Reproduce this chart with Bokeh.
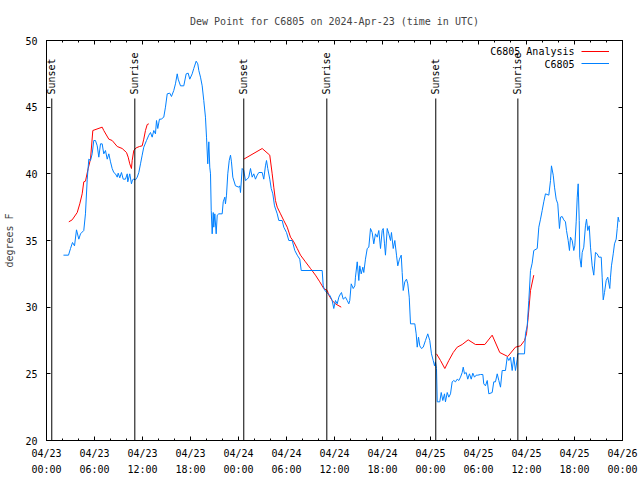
import numpy as np
from bokeh.plotting import figure
from bokeh.models import (LinearAxis, FixedTicker, Legend, LegendItem, Label, Range1d)
from bokeh.core.properties import value
from bokeh.embed import file_html
from bokeh.resources import INLINE

FONT = "DejaVu Sans Mono"

title_text = "Dew Point for C6805 on 2024-Apr-23 (time in UTC)"
y_label = "degrees F"
series_names = ["C6805 Analysis", "C6805"]

# x values: hours since 2024-04-23 00:00 UTC
tick_hours = [0, 6, 12, 18, 24, 30, 36, 42, 48, 54, 60, 66, 72]
tick_labels = ["04/23\n00:00", "04/23\n06:00", "04/23\n12:00", "04/23\n18:00",
               "04/24\n00:00", "04/24\n06:00", "04/24\n12:00", "04/24\n18:00",
               "04/25\n00:00", "04/25\n06:00", "04/25\n12:00", "04/25\n18:00",
               "04/26\n00:00"]
minor_tick_hours = list(range(0, 73, 2))
y_ticks = [20, 25, 30, 35, 40, 45, 50]

obs_hours = [2.12, 2.75, 3.0, 3.25, 3.5, 3.75, 4.04, 4.25, 4.66, 4.87, 5.09, 5.29, 5.5, 5.71,
             5.91, 6.12, 6.34, 6.54, 6.75, 6.96, 7.16, 7.37, 7.59, 7.79, 8.0, 8.21, 8.41, 8.62,
             8.84, 8.96, 9.16, 9.37, 9.59, 9.87, 10.09, 10.16, 10.41, 10.62, 10.75, 10.91, 11.12,
             11.34, 11.54, 11.75, 11.96, 12.16, 12.5, 12.79, 13.0, 13.21, 13.41, 13.62, 13.75,
             13.91, 14.12, 14.34, 14.66, 14.87, 15.09, 15.41, 15.62, 15.91, 16.12, 16.34, 16.46,
             16.75, 17.16, 17.46, 17.71, 17.91, 18.21, 18.41, 18.71, 18.91, 19.04, 19.25, 19.46,
             19.66, 19.87, 20.0, 20.16, 20.29, 20.41, 20.5, 20.59, 20.71, 20.84, 20.91, 21.04,
             21.21, 21.34, 21.54, 21.96, 22.09, 22.29, 22.37, 22.5, 22.66, 22.84, 23.0, 23.12,
             23.29, 23.62, 24.04, 24.16, 24.25, 24.46, 24.66, 24.87, 25.09, 25.29, 25.5, 25.71,
             25.91, 26.12, 26.34, 26.54, 26.96, 27.16, 27.37, 27.5, 27.66, 27.91, 28.09, 28.29,
             28.5, 28.84, 29.04, 29.46, 29.66, 30.0, 30.29, 30.71, 31.04, 31.34, 31.66, 31.84,
             34.46, 34.59, 34.75, 35.09, 35.41, 35.71, 35.91, 36.12, 36.34, 36.54, 36.75, 36.87,
             37.09, 37.37, 37.59, 37.79, 37.91, 38.09, 38.34, 38.54, 38.62, 38.84, 39.04, 39.16,
             39.34, 39.54, 39.66, 39.87, 40.09, 40.29, 40.5, 40.71, 40.91, 41.12, 41.34, 41.54,
             41.75, 41.96, 42.09, 42.25, 42.37, 42.59, 42.79, 43.0, 43.12, 43.34, 43.54, 43.75,
             43.91, 44.12, 44.34, 44.46, 44.59, 44.79, 45.0, 45.16, 45.34, 45.5, 46.04, 46.21,
             46.34, 46.5, 46.66, 46.87, 47.09, 47.37, 47.66, 47.91, 48.12, 48.34, 48.5, 48.62,
             48.75, 48.84, 49.16, 49.34, 49.54, 49.75, 49.87, 50.09, 50.29, 50.5, 50.71, 50.91,
             51.12, 51.34, 51.54, 51.75, 51.96, 52.09, 52.25, 52.46, 52.66, 52.87, 53.09, 53.29,
             53.5, 53.71, 53.91, 54.25, 54.54, 54.66, 54.87, 55.09, 55.29, 55.71, 55.91, 56.12,
             56.34, 56.54, 56.75, 56.96, 57.37, 57.59, 57.79, 58.0, 58.21, 58.41, 58.62, 58.84,
             58.91, 59.75, 59.87, 60.09, 60.29, 60.5, 60.71, 60.91, 61.34, 61.54, 61.75, 61.96,
             62.16, 62.37, 62.79, 63.0, 63.12, 63.34, 63.5, 63.71, 63.91, 64.12, 64.25, 64.46,
             64.66, 64.87, 65.0, 65.21, 65.37, 65.5, 65.71, 65.91, 66.04, 66.21, 66.34, 66.46,
             66.59, 66.66, 66.84, 66.96, 67.16, 67.37, 67.5, 67.66, 67.84, 68.0, 68.21, 68.41,
             68.62, 68.84, 69.04, 69.34, 69.46, 69.59, 69.75, 69.96, 70.16, 70.41, 70.5, 70.62,
             70.84, 71.0, 71.21, 71.34, 71.46, 71.59]
obs_dewpt = [33.9, 33.9, 34.4, 34.85, 34.6, 35.8, 35.1, 35.5, 35.75, 37.0, 39.6, 41.1, 41.0, 41.5,
             42.5, 42.5, 42.1, 41.25, 42.25, 42.25, 41.5, 41.75, 41.1, 41.5, 40.9, 40.4, 40.1, 40.0,
             39.75, 40.05, 39.7, 40.1, 39.6, 39.6, 40.0, 39.4, 40.0, 39.25, 39.55, 39.6, 39.55,
             39.75, 40.1, 40.75, 41.4, 42.0, 42.5, 42.9, 43.1, 42.75, 43.25, 43.0, 44.0,
             43.4, 44.1, 44.1, 44.25, 45.0, 46.0, 46.05, 45.8, 46.25, 46.75, 47.5, 47.1,
             46.6, 46.6, 47.5, 47.55, 47.1, 47.5, 47.9, 48.45, 48.25, 47.75, 47.25, 46.6,
             45.5, 44.25, 42.75, 40.75, 42.4, 40.5, 40.0, 37.25, 35.5, 37.1, 36.0, 37.0,
             35.5, 36.9, 37.0, 37.0, 37.9, 38.25, 37.75, 38.4, 40.0, 41.0, 41.4, 40.9,
             39.75, 39.1, 39.0, 39.1, 38.6, 40.4, 40.25, 39.5, 39.6, 39.75, 40.4, 39.75,
             40.0, 39.6, 39.9, 40.1, 40.1, 39.6, 40.6, 41.0, 40.4, 39.6, 38.9, 38.5,
             37.6, 37.0, 36.5, 36.5, 36.0, 35.6, 35.0, 35.0, 34.25, 33.9, 33.6, 32.75,
             32.75, 31.6, 31.3, 31.05, 30.9, 30.5, 29.9, 30.5, 30.25, 30.75, 31.0, 31.1,
             30.6, 30.75, 30.5, 30.25, 30.5, 31.75, 31.4, 31.6, 32.25, 33.4, 32.0, 33.1,
             32.5, 33.0, 32.6, 33.6, 34.4, 34.5, 35.9, 35.6, 34.75, 35.5, 35.25, 35.75,
             34.4, 35.75, 35.9, 34.75, 33.9, 35.9, 35.5, 35.0, 35.6, 34.4, 35.0, 33.9,
             33.1, 33.6, 33.9, 32.6, 31.25, 31.9, 32.1, 31.75, 30.75, 28.75, 28.75, 28.0,
             27.0, 27.75, 27.1, 26.9, 27.0, 27.5, 28.0, 27.5, 26.5, 26.0, 25.6, 25.9,
             25.4, 22.9, 22.9, 23.6, 23.0, 23.5, 22.9, 23.6, 23.25, 23.5, 24.4, 24.5,
             24.4, 24.6, 24.5, 24.75, 25.1, 25.5, 25.0, 25.1, 24.6, 25.0, 24.6, 25.05,
             24.75, 24.9, 24.9, 24.95, 24.95, 24.25, 24.1, 24.5, 23.5, 23.6, 24.4, 24.4,
             25.0, 24.5, 24.0, 25.25, 25.25, 26.25, 26.0, 26.25, 25.25, 26.25, 25.25, 26.1,
             26.5, 26.5, 28.0, 28.6, 30.5, 32.75, 33.3, 34.25, 34.4, 36.0, 36.6, 37.25,
             37.9, 38.5, 38.4, 39.5, 40.6, 39.9, 39.0, 38.1, 37.75, 35.9, 36.75, 36.8,
             36.55, 36.4, 35.75, 35.0, 34.25, 35.25, 35.0, 34.25, 34.6, 36.4, 38.25, 39.25,
             36.5, 33.75, 33.0, 34.1, 34.5, 36.1, 36.6, 35.75, 36.1, 34.5, 33.1, 32.4,
             34.1, 34.0, 33.75, 33.75, 32.25, 30.55, 31.1, 32.0, 32.25, 31.4, 32.25, 33.1,
             34.0, 34.75, 35.1, 35.9, 36.75, 36.4]

nan = float("nan")
ana_hours = [2.79, 3.21, 3.84, 4.16, 4.46, 4.66, 4.87, 5.21, 5.5, 5.79, 6.96, 7.16, 7.79, 8.21,
             8.84, 9.46, 10.0, 10.21, 10.41, 10.62, 10.71, 10.91, 11.21, 11.62, 11.96, 12.16,
             12.37, 12.59, 12.79,
             18.0,
             24.66, 26.96, 27.91, 28.21, 28.41, 28.62, 28.84, 29.25, 29.66, 30.09, 30.5, 30.91,
             31.34, 31.75, 32.37, 33.0, 33.62, 34.16, 34.66, 35.1, 35.29, 35.71, 36.12, 36.84,
             42.0,
             48.75, 49.25, 49.79, 50.29, 50.84, 51.34, 51.96, 52.71, 53.62, 54.79, 55.71, 56.66,
             57.66, 58.62, 59.25, 59.75, 60.0, 60.21, 60.5, 60.91]
ana_dewpt = [36.4, 36.55, 37.1, 37.75, 38.5, 39.4, 39.45, 40.4, 41.1, 43.25, 43.5, 43.25, 42.6, 42.5,
             42.05, 41.9, 41.6, 41.25, 40.75, 40.4, 41.0, 41.75, 41.95, 42.05, 42.1, 42.6,
             43.25, 43.7, 43.75,
             nan,
             41.1, 41.9, 41.4, 40.0, 39.0, 38.0, 37.5, 37.0, 36.5, 36.0, 35.25, 34.9,
             34.4, 33.9, 33.4, 32.9, 32.4, 31.9, 31.4, 31.25, 30.9, 30.5, 30.25, 30.0,
             nan,
             26.5, 26.0, 25.4, 26.0, 26.6, 27.0, 27.2, 27.55, 27.2, 27.2, 27.9, 26.6,
             26.3, 27.0, 27.1, 27.5, 28.0, 29.25, 31.25, 32.4]

sun_hours = [0.66, 11.04, 24.66, 35.04, 48.66, 58.92]
sun_labels = ["Sunset", "Sunrise", "Sunset", "Sunrise", "Sunset", "Sunrise"]

p = figure(frame_width=576, frame_height=400, x_range=Range1d(0, 72), y_range=Range1d(20, 50),
           output_backend="svg", toolbar_location=None,
           min_border_left=46, min_border_right=18, min_border_top=40, min_border_bottom=40)
p.background_fill_color = "white"
p.border_fill_color = "white"
p.outline_line_color = "black"
p.outline_line_width = 1
p.xgrid.visible = False
p.ygrid.visible = False

p.title.text = title_text
p.title.text_font = FONT
p.title.text_font_size = "10px"
p.title.text_font_style = "normal"
p.title.align = "center"
p.title.standoff = 27


def style_axis(ax, show_labels=True):
    ax.axis_line_color = "black"
    ax.major_tick_line_color = "black"
    ax.minor_tick_line_color = "black"
    ax.major_tick_in = 4
    ax.major_tick_out = 0
    ax.minor_tick_in = 2
    ax.minor_tick_out = 0
    ax.major_label_text_font = FONT
    ax.major_label_text_color = "black"
    ax.major_label_text_font_size = "10px"
    if not show_labels:
        ax.major_label_text_color = None
        ax.major_label_standoff = 0


x_ticker = FixedTicker(ticks=tick_hours, minor_ticks=minor_tick_hours)
y_ticker = FixedTicker(ticks=y_ticks, minor_ticks=[])

xa = p.xaxis[0]
xa.ticker = x_ticker
xa.major_label_overrides = {h: lab for h, lab in zip(tick_hours, tick_labels)}
style_axis(xa)
xa.major_label_standoff = 7
xa.major_label_text_line_height = 1.5

ya = p.yaxis[0]
ya.ticker = y_ticker
style_axis(ya)
ya.major_label_standoff = 9
ya.axis_label = y_label
ya.axis_label_text_font = FONT
ya.axis_label_text_font_size = "10px"
ya.axis_label_text_font_style = "normal"
ya.axis_label_standoff = 7

top_ax = LinearAxis(ticker=x_ticker)
style_axis(top_ax, show_labels=False)
top_ax.major_label_overrides = {h: "" for h in tick_hours}
p.add_layout(top_ax, "above")
right_ax = LinearAxis(ticker=y_ticker)
style_axis(right_ax, show_labels=False)
right_ax.major_label_overrides = {v: "" for v in y_ticks}
p.add_layout(right_ax, "right")

red_r = p.line(ana_hours, ana_dewpt, line_color="#ff0000", line_width=1)
blue_r = p.line(obs_hours, obs_dewpt, line_color="#0080ff", line_width=1)

p.segment(x0=sun_hours, y0=20, x1=sun_hours, y1=45.65, line_color="black", line_width=1)
p.text(x=sun_hours, y=45.95, text=sun_labels, angle=np.pi / 2,
       text_font=value(FONT), text_font_size="10px", text_align="left",
       text_baseline="middle", text_color="black")

legend = Legend(items=[LegendItem(label=" ", renderers=[red_r]),
                       LegendItem(label=" ", renderers=[blue_r])],
                location=(535, 371.5), glyph_width=28, glyph_height=12,
                label_height=12, label_width=0, label_standoff=0, spacing=0,
                padding=0, margin=0, border_line_alpha=0, background_fill_alpha=0,
                label_text_font_size="10px")
p.add_layout(legend)

for i, name in enumerate(series_names):
    p.add_layout(Label(x=528, y=389 - 12.5 * i, x_units="screen", y_units="screen",
                       text=name, text_align="right", text_baseline="middle",
                       text_font=FONT, text_font_size="10px", text_color="black"))

open("out.html", "w").write(file_html(p, INLINE))
